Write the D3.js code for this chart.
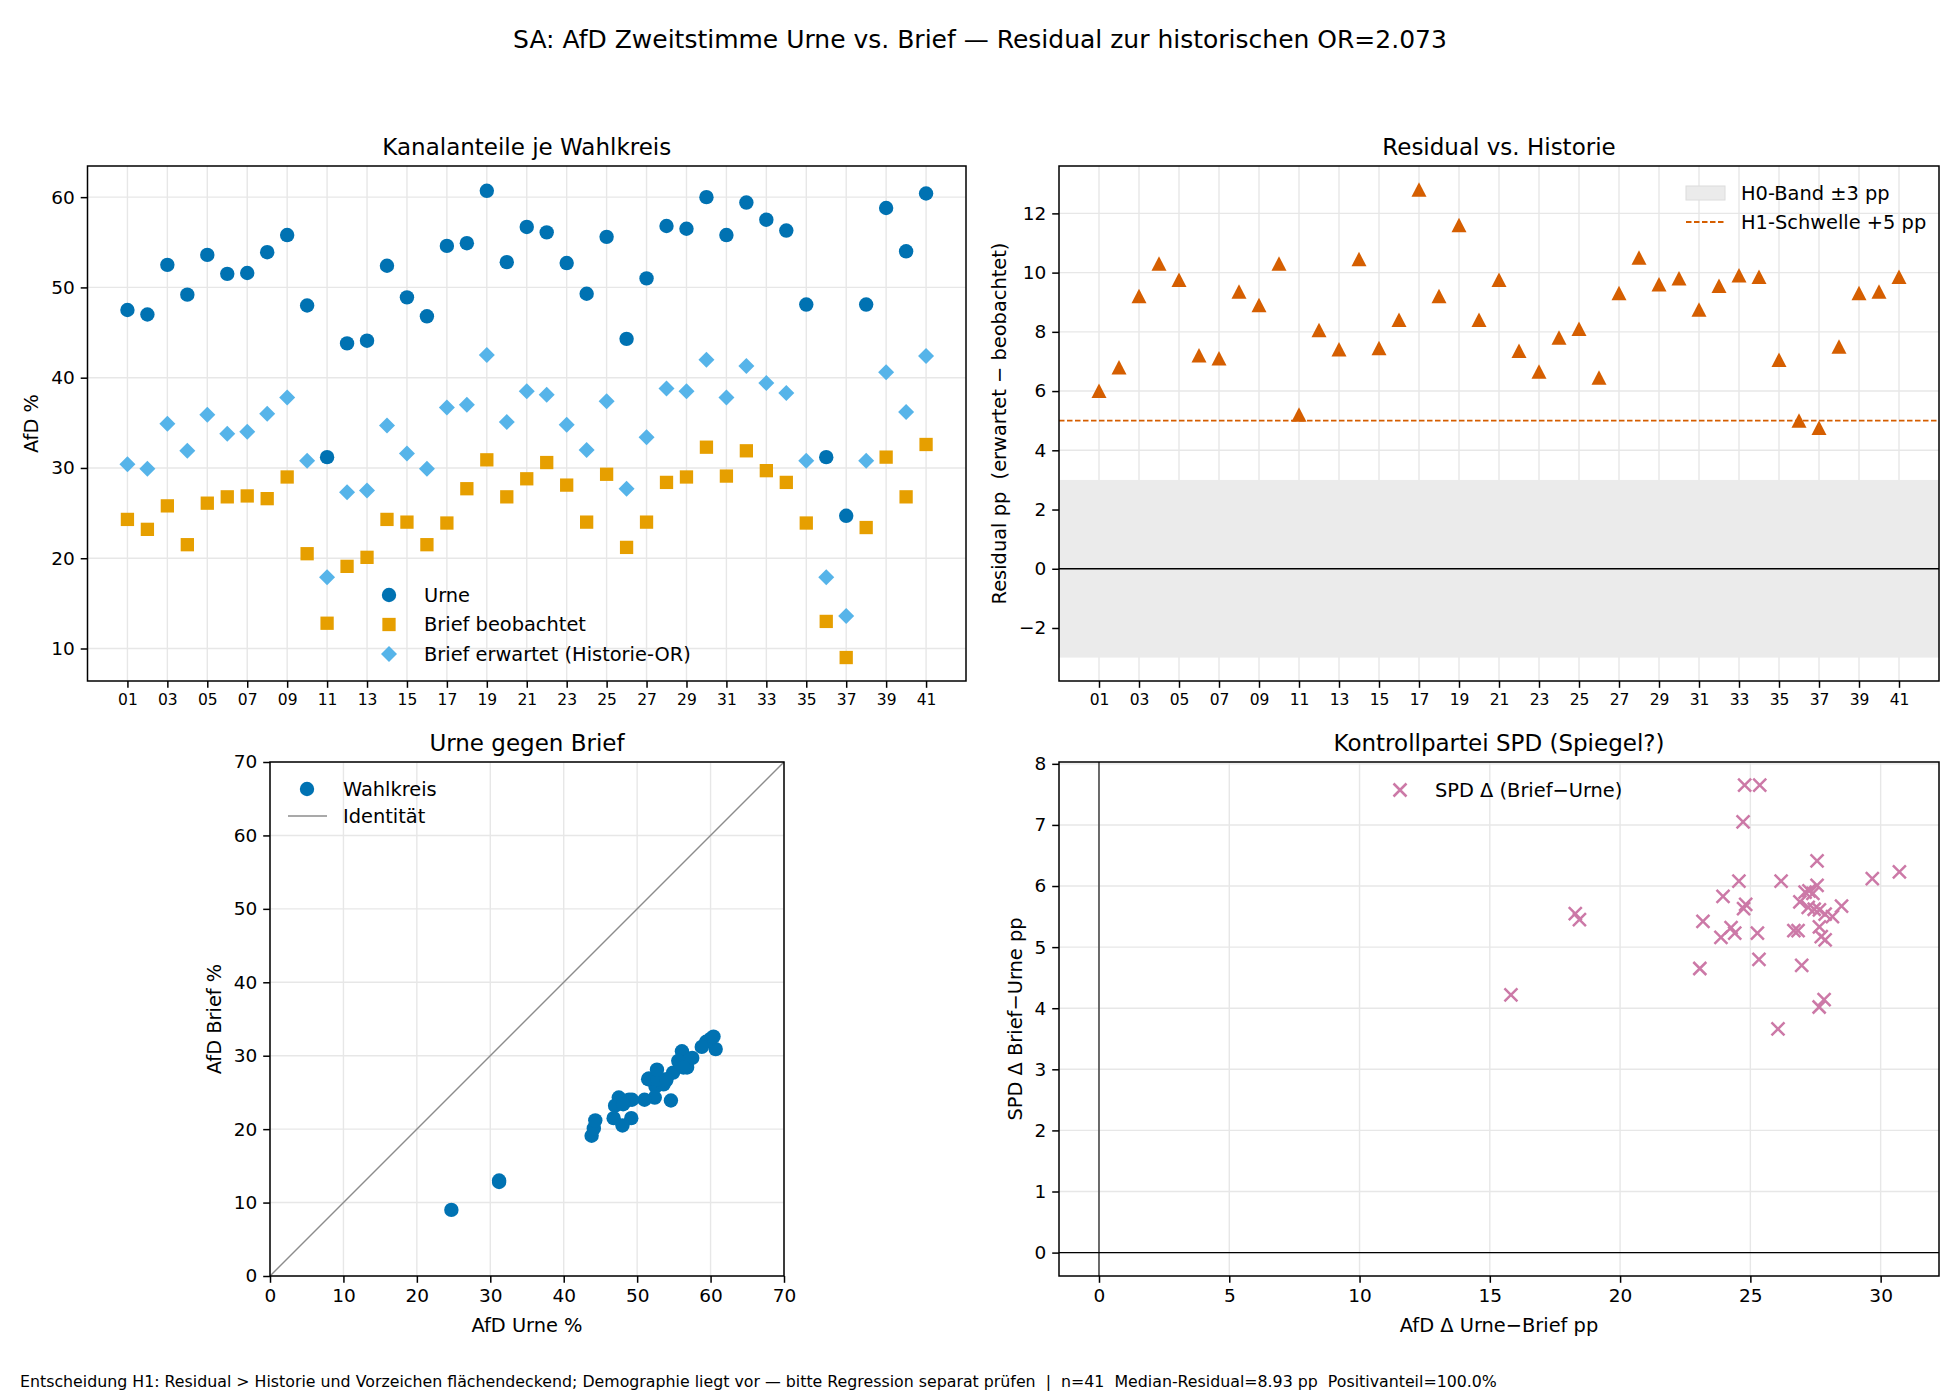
<!DOCTYPE html>
<meta charset="utf-8" />
<style>
  body { margin: 0; background: #fff; }
  svg { font-family: 'DejaVu Sans', sans-serif; }
  svg text { white-space: pre; }
  .grid line { stroke: #e7e7e7; stroke-width: 1.4; }
  .axis path, .axis line { stroke: #000; stroke-width: 1.5; }
  .axis text { fill: #000; }
</style>
<svg width="1960" height="1400"></svg>
<script src="https://d3js.org/d3.v7.min.js"></script>
<script>
  // Wahlkreise 01..41
  const districts = d3.range(1, 42);
  const urne = [47.5, 47.0, 52.5, 49.2, 53.6, 51.5, 51.6, 53.9, 55.8, 48.0, 31.2, 43.8, 44.1, 52.4, 48.9, 46.8, 54.6, 54.9, 60.7, 52.8, 56.7,
    56.1, 52.7, 49.3, 55.6, 44.3, 51.0, 56.8, 56.5, 60.0, 55.8, 59.4, 57.5, 56.3, 48.1, 31.2, 24.7, 48.1, 58.8, 54.0, 60.4];
  const briefObs = [24.3, 23.2, 25.8, 21.5, 26.1, 26.8, 26.9, 26.6, 29.0, 20.5, 12.8, 19.1, 20.1, 24.3, 24.0, 21.5, 23.9, 27.7, 30.9, 26.8, 28.8,
    30.6, 28.1, 24.0, 29.3, 21.2, 24.0, 28.4, 29.0, 32.3, 29.1, 31.9, 29.7, 28.4, 23.9, 13.0, 9.0, 23.4, 31.2, 26.8, 32.6];
  const briefExp = [30.4, 29.9, 34.9, 31.9, 35.9, 33.8, 34.0, 36.0, 37.8, 30.8, 17.9, 27.3, 27.5, 34.7, 31.6, 29.9, 36.7, 37.0, 42.5, 35.1, 38.5,
    38.1, 34.8, 32.0, 37.4, 27.7, 33.4, 38.8, 38.5, 42.0, 37.8, 41.3, 39.4, 38.3, 30.8, 17.9, 13.6, 30.8, 40.6, 36.2, 42.4];
  const residual = [6.0, 6.8, 9.2, 10.3, 9.75, 7.2, 7.1, 9.35, 8.9, 10.3, 5.2, 8.05, 7.4, 10.45, 7.45, 8.4, 12.8, 9.2, 11.6, 8.4, 9.75,
    7.35, 6.65, 7.8, 8.1, 6.45, 9.3, 10.5, 9.6, 9.8, 8.75, 9.55, 9.9, 9.85, 7.05, 5.0, 4.75, 7.5, 9.3, 9.35, 9.85];

  // Kontrollpartei: AfD Δ (Urne−Brief) gegen SPD Δ (Brief−Urne)
  const afdDelta = [15.81, 18.28, 18.44, 23.06, 23.18, 23.87, 23.95, 24.26, 24.40, 24.56, 24.72, 24.78, 25.36, 24.74, 24.82, 25.27, 25.33,
    26.06, 26.18, 26.67, 26.83, 26.97, 26.90, 27.10, 27.25, 27.40, 27.56, 27.56, 27.22, 27.64, 27.83, 29.68, 30.72, 28.50, 28.15,
    27.65, 27.72, 27.87, 27.65, 27.87, 27.45];
  const spdDelta = [4.22, 5.55, 5.45, 4.65, 5.42, 5.16, 5.83, 5.32, 5.23, 6.08, 7.05, 7.65, 7.65, 5.63, 5.70, 5.23, 4.80,
    3.66, 6.08, 5.27, 5.27, 4.70, 5.74, 5.90, 5.92, 5.88, 6.41, 6.01, 5.65, 4.02, 4.14, 6.12, 6.23, 5.67, 5.50,
    5.33, 5.17, 5.12, 5.61, 5.54, 5.62];

  const tickDistricts = districts.filter(d => d % 2 === 1);
  const h0Band = [-3, 3];
  const h1Threshold = 5;

  const C = {
    urne: '#0072B2',
    brief: '#E69F00',
    erwartet: '#56B4E9',
    resid: '#D55E00',
    spd: '#CC79A7'
  };

  const FS = { tick: 18.5, smallTick: 15.5, label: 19.4, title: 23, sup: 25, foot: 15.8 };

  const svg = d3.select('svg');
  svg.append('rect').attr('width', 1960).attr('height', 1400).attr('fill', '#fff');

  const pad2 = d => String(d).padStart(2, '0');

  // marker shapes
  const circle = d3.symbol().type(d3.symbolCircle).size(Math.PI * 7.2 * 7.2)();
  const square = d3.symbol().type(d3.symbolSquare).size(13.3 * 13.3)();
  const diamond = 'M0,-8L8,0L0,8L-8,0Z';
  const triangle = 'M0,-7.5L7.5,7L-7.5,7Z';
  const cross = 'M-6.5,-6.5L6.5,6.5M-6.5,6.5L6.5,-6.5';

  // one subplot: grid, spines, axes
  function panel(opt) {
    const g = svg.append('g');
    const x = opt.x, y = opt.y;
    const [x0, x1] = x.range();
    const [y1, y0] = y.range();

    g.append('g').attr('class', 'grid')
      .selectAll('line').data(opt.xTicks).join('line')
      .attr('x1', d => x(d)).attr('x2', d => x(d)).attr('y1', y0).attr('y2', y1);
    g.append('g').attr('class', 'grid')
      .selectAll('line').data(opt.yTicks).join('line')
      .attr('x1', x0).attr('x2', x1).attr('y1', d => y(d)).attr('y2', d => y(d));

    const plot = g.append('g');

    const xa = g.append('g').attr('class', 'axis')
      .attr('transform', `translate(0,${y1})`)
      .call(d3.axisBottom(x).tickValues(opt.xTicks).tickFormat(opt.xFormat || d3.format('d'))
        .tickSize(6.8).tickPadding(6).tickSizeOuter(0));
    xa.select('.domain').remove();
    xa.selectAll('text').attr('font-size', opt.xFont || FS.tick).attr('font-family', 'DejaVu Sans');

    const ya = g.append('g').attr('class', 'axis')
      .attr('transform', `translate(${x0},0)`)
      .call(d3.axisLeft(y).tickValues(opt.yTicks).tickFormat(d3.format('d'))
        .tickSize(6.8).tickPadding(6).tickSizeOuter(0));
    ya.select('.domain').remove();
    ya.selectAll('text').attr('font-size', FS.tick).attr('font-family', 'DejaVu Sans');

    g.append('rect')
      .attr('x', x0).attr('y', y0).attr('width', x1 - x0).attr('height', y1 - y0)
      .attr('fill', 'none').attr('stroke', '#000').attr('stroke-width', 1.5);

    g.append('text')
      .attr('x', (x0 + x1) / 2).attr('y', y0 - 11)
      .attr('text-anchor', 'middle').attr('font-size', FS.title)
      .text(opt.title);

    if (opt.yLabel) {
      g.append('text')
        .attr('transform', `translate(${opt.yLabelX},${(y0 + y1) / 2}) rotate(-90)`)
        .attr('text-anchor', 'middle').attr('dominant-baseline', 'central')
        .attr('font-size', FS.label).text(opt.yLabel);
    }
    if (opt.xLabel) {
      g.append('text')
        .attr('x', (x0 + x1) / 2).attr('y', opt.xLabelY)
        .attr('text-anchor', 'middle').attr('dominant-baseline', 'central')
        .attr('font-size', FS.label).text(opt.xLabel);
    }
    return plot;
  }

  function legendText(g, tx, y, label) {
    g.append('text').attr('x', tx).attr('y', y).attr('dominant-baseline', 'central')
      .attr('font-size', FS.label).text(label);
  }

  // ---------- Panel 1: Kanalanteile je Wahlkreis ----------
  const x1 = d3.scaleLinear().domain([-1, 43]).range([87.5, 966]);
  const y1 = d3.scaleLinear().domain([6.4, 63.45]).range([681, 166]);
  const p1 = panel({
    x: x1, y: y1, xTicks: tickDistricts, yTicks: [10, 20, 30, 40, 50, 60],
    xFormat: pad2, xFont: FS.smallTick, title: 'Kanalanteile je Wahlkreis',
    yLabel: 'AfD %', yLabelX: 31
  });

  const series1 = [
    { vals: urne, path: circle, color: C.urne, label: 'Urne' },
    { vals: briefObs, path: square, color: C.brief, label: 'Brief beobachtet' },
    { vals: briefExp, path: diamond, color: C.erwartet, label: 'Brief erwartet (Historie-OR)' }
  ];
  series1.forEach(s => {
    p1.append('g').selectAll('path').data(districts).join('path')
      .attr('transform', (d, i) => `translate(${x1(d)},${y1(s.vals[i])})`)
      .attr('d', s.path).attr('fill', s.color);
  });
  const lg1 = svg.append('g');
  series1.forEach((s, i) => {
    const yy = 595 + i * 29.5;
    lg1.append('path').attr('transform', `translate(389,${yy})`).attr('d', s.path).attr('fill', s.color);
    legendText(lg1, 424, yy, s.label);
  });

  // ---------- Panel 2: Residual vs. Historie ----------
  const x2 = d3.scaleLinear().domain([-1, 43]).range([1059, 1939]);
  const y2 = d3.scaleLinear().domain([-3.79, 13.6]).range([681, 166]);
  const p2 = panel({
    x: x2, y: y2, xTicks: tickDistricts, yTicks: [-2, 0, 2, 4, 6, 8, 10, 12],
    xFormat: pad2, xFont: FS.smallTick, title: 'Residual vs. Historie',
    yLabel: 'Residual pp  (erwartet \u2212 beobachtet)', yLabelX: 999
  });
  p2.append('rect')
    .attr('x', x2.range()[0]).attr('width', x2.range()[1] - x2.range()[0])
    .attr('y', y2(h0Band[1])).attr('height', y2(h0Band[0]) - y2(h0Band[1]))
    .attr('fill', '#ebebeb');
  p2.append('line')
    .attr('x1', x2.range()[0]).attr('x2', x2.range()[1])
    .attr('y1', y2(0)).attr('y2', y2(0)).attr('stroke', '#000').attr('stroke-width', 1.4);
  p2.append('line')
    .attr('x1', x2.range()[0]).attr('x2', x2.range()[1])
    .attr('y1', y2(h1Threshold)).attr('y2', y2(h1Threshold))
    .attr('stroke', C.resid).attr('stroke-width', 1.8).attr('stroke-dasharray', '5.5,2.5');
  p2.append('g').selectAll('path').data(districts).join('path')
    .attr('transform', (d, i) => `translate(${x2(d)},${y2(residual[i])})`)
    .attr('d', triangle).attr('fill', C.resid);

  const lg2 = svg.append('g');
  lg2.append('rect').attr('x', 1686).attr('y', 186).attr('width', 39).attr('height', 14)
    .attr('fill', '#ebebeb').attr('stroke', '#dcdcdc');
  legendText(lg2, 1741, 193, 'H0-Band \u00b13 pp');
  lg2.append('line').attr('x1', 1686).attr('x2', 1725).attr('y1', 222).attr('y2', 222)
    .attr('stroke', C.resid).attr('stroke-width', 1.8).attr('stroke-dasharray', '5.5,2.5');
  legendText(lg2, 1741, 222, 'H1-Schwelle +5 pp');

  // ---------- Panel 3: Urne gegen Brief ----------
  const x3 = d3.scaleLinear().domain([0, 70]).range([270, 784]);
  const y3 = d3.scaleLinear().domain([0, 70]).range([1276, 762]);
  const p3 = panel({
    x: x3, y: y3, xTicks: d3.range(0, 71, 10), yTicks: d3.range(0, 71, 10),
    title: 'Urne gegen Brief', yLabel: 'AfD Brief %', yLabelX: 214,
    xLabel: 'AfD Urne %', xLabelY: 1325
  });
  p3.append('line')
    .attr('x1', x3(0)).attr('y1', y3(0)).attr('x2', x3(70)).attr('y2', y3(70))
    .attr('stroke', '#8c8c8c').attr('stroke-width', 1.4);
  p3.append('g').selectAll('path').data(districts).join('path')
    .attr('transform', (d, i) => `translate(${x3(urne[i])},${y3(briefObs[i])})`)
    .attr('d', circle).attr('fill', C.urne);

  const lg3 = svg.append('g');
  lg3.append('path').attr('transform', 'translate(307,789)').attr('d', circle).attr('fill', C.urne);
  legendText(lg3, 343, 789, 'Wahlkreis');
  lg3.append('line').attr('x1', 288).attr('x2', 327).attr('y1', 816).attr('y2', 816)
    .attr('stroke', '#8c8c8c').attr('stroke-width', 1.4);
  legendText(lg3, 343, 816, 'Identit\u00e4t');

  // ---------- Panel 4: Kontrollpartei SPD ----------
  const x4 = d3.scaleLinear().domain([-1.535, 32.24]).range([1059, 1939]);
  const y4 = d3.scaleLinear().domain([-0.383, 8.03]).range([1276, 762]);
  const p4 = panel({
    x: x4, y: y4, xTicks: d3.range(0, 31, 5), yTicks: d3.range(0, 9),
    title: 'Kontrollpartei SPD (Spiegel?)', yLabel: 'SPD \u0394 Brief\u2212Urne pp', yLabelX: 1015,
    xLabel: 'AfD \u0394 Urne\u2212Brief pp', xLabelY: 1325
  });
  p4.append('line')
    .attr('x1', x4(0)).attr('x2', x4(0)).attr('y1', y4.range()[1]).attr('y2', y4.range()[0])
    .attr('stroke', '#000').attr('stroke-width', 1.1);
  p4.append('line')
    .attr('x1', x4.range()[0]).attr('x2', x4.range()[1]).attr('y1', y4(0)).attr('y2', y4(0))
    .attr('stroke', '#000').attr('stroke-width', 1.1);
  p4.append('g').selectAll('path').data(afdDelta).join('path')
    .attr('transform', (d, i) => `translate(${x4(d)},${y4(spdDelta[i])})`)
    .attr('d', cross).attr('fill', 'none').attr('stroke', C.spd).attr('stroke-width', 2.5);

  const lg4 = svg.append('g');
  lg4.append('path').attr('transform', 'translate(1400,790)').attr('d', cross)
    .attr('fill', 'none').attr('stroke', C.spd).attr('stroke-width', 2.5);
  legendText(lg4, 1435, 790, 'SPD \u0394 (Brief\u2212Urne)');

  // ---------- titles ----------
  svg.append('text')
    .attr('x', 980).attr('y', 39).attr('text-anchor', 'middle').attr('dominant-baseline', 'central')
    .attr('font-size', FS.sup)
    .text('SA: AfD Zweitstimme Urne vs. Brief \u2014 Residual zur historischen OR=2.073');

  svg.append('text')
    .attr('x', 20).attr('y', 1381).attr('dominant-baseline', 'central')
    .attr('font-size', FS.foot)
    .text('Entscheidung H1: Residual > Historie und Vorzeichen fl\u00e4chendeckend; Demographie liegt vor \u2014 bitte Regression separat pr\u00fcfen  |  n=41  Median-Residual=8.93 pp  Positivanteil=100.0%');
</script>
